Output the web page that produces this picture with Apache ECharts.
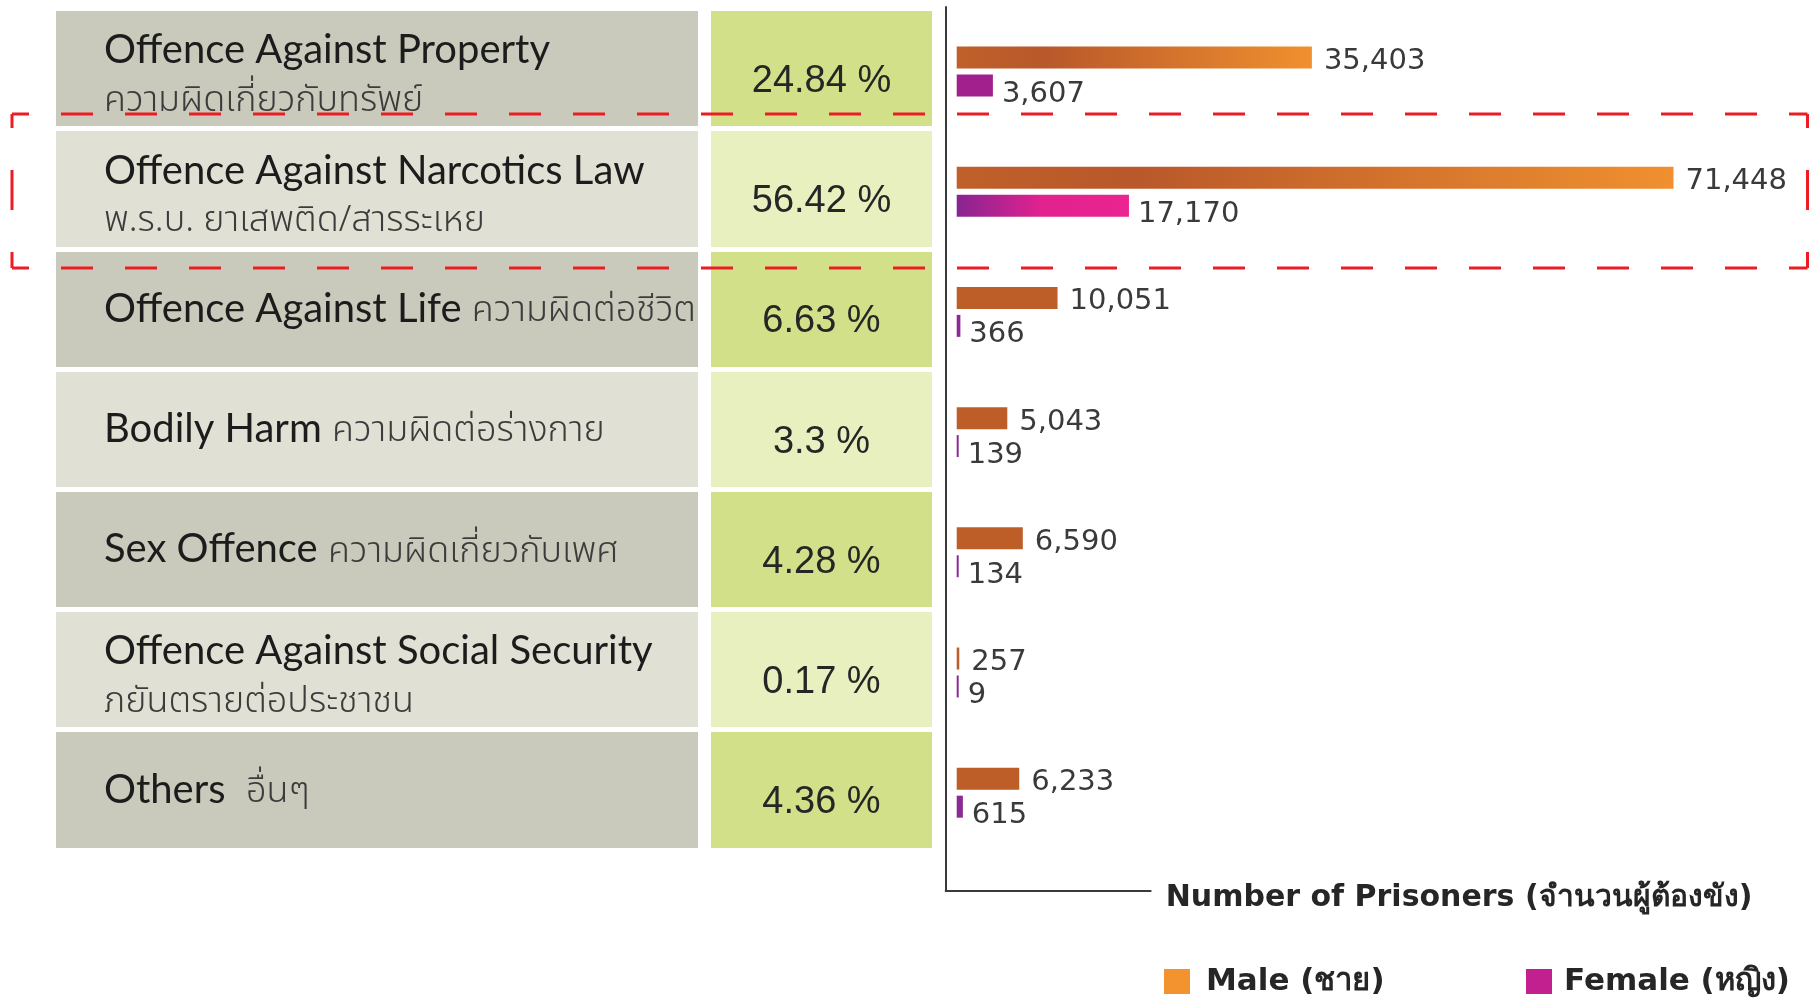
<!DOCTYPE html>
<html>
<head>
<meta charset="utf-8">
<title>Prisoners by offence</title>
<script src="https://cdn.jsdelivr.net/npm/echarts@6/dist/echarts.min.js"></script>
<style>
  html, body { margin: 0; padding: 0; background: #fff; }
  #main { width: 1813px; height: 998px; }
</style>
</head>
<body>
<div id="main"></div>
<script>
// offence types, top to bottom
const offenceEn = ['Offence Against Property', 'Offence Against Narcotics Law', 'Offence Against Life', 'Bodily Harm', 'Sex Offence', 'Offence Against Social Security', 'Others']
const offenceTh = ['ความผิดเกี่ยวกับทรัพย์', 'พ.ร.บ. ยาเสพติด/สารระเหย', 'ความผิดต่อชีวิต', 'ความผิดต่อร่างกาย', 'ความผิดเกี่ยวกับเพศ', 'ภยันตรายต่อประชาชน', 'อื่นๆ']
const sharePct = ['24.84', '56.42', '6.63', '3.3', '4.28', '0.17', '4.36']
const maleCount = [35403, 71448, 10051, 5043, 6590, 257, 6233]
const femaleCount = [3607, 17170, 366, 139, 134, 9, 615]

const thaiFont = "'Noto Sans Thai', 'Noto Sans Thai Looped', Loma, Garuda, 'Tlwg Typo', sans-serif"
const numFont = "'DejaVu Sans', sans-serif"

// same band layout for the table and the bars
const bandTop = 8.4
const bandHeight = 841.4

function maleFill(v) {
  if (v > 20000) {
    return {
      type: 'linear', x: 0, y: 0, x2: 1, y2: 0,
      colorStops: [
        { offset: 0, color: '#bf602a' },
        { offset: 0.25, color: '#b9582a' },
        { offset: 1, color: '#f0902f' }
      ]
    }
  }
  return '#bd5e29'
}

function femaleFill(v) {
  if (v > 10000) {
    return {
      type: 'linear', x: 0, y: 0, x2: 1, y2: 0,
      colorStops: [
        { offset: 0, color: '#882491' },
        { offset: 0.5, color: '#e2228f' },
        { offset: 1, color: '#ea2490' }
      ]
    }
  }
  if (v > 1000) return '#a21f8e'
  return '#8b2a93'
}

// table cells are drawn as striped category bands
function tableAxis(idx, colors, label) {
  return {
    gridIndex: idx,
    type: 'category',
    data: offenceEn,
    inverse: true,
    axisLine: { show: false },
    axisTick: { show: false },
    splitArea: { show: true, areaStyle: { color: colors } },
    splitLine: { show: true, lineStyle: { color: '#ffffff', width: 5 } },
    axisLabel: label
  }
}

function hiddenValueAxis(idx, max) {
  return {
    gridIndex: idx, type: 'value', min: 0, max: max,
    axisLine: { show: false }, axisTick: { show: false },
    axisLabel: { show: false }, splitLine: { show: false }
  }
}

const chart = echarts.init(document.getElementById('main'))

const option = {
  animation: false,
  backgroundColor: '#ffffff',
  grid: [
    { left: 56, top: bandTop, width: 642, height: bandHeight },
    { left: 711, top: bandTop, width: 221, height: bandHeight },
    { left: 956.7, top: bandTop + 3, width: 802.6, height: bandHeight },
    { left: 945.7, top: 7, width: 205, height: 884 }
  ],
  xAxis: [
    hiddenValueAxis(0, 1),
    hiddenValueAxis(1, 1),
    hiddenValueAxis(2, 80000),
    {
      gridIndex: 3, type: 'value', min: 0, max: 1,
      axisLine: { show: true, lineStyle: { color: '#3a3a3a', width: 2 } },
      axisTick: { show: false }, axisLabel: { show: false }, splitLine: { show: false },
      name: 'Number of Prisoners (จำนวนผู้ต้องขัง)',
      nameLocation: 'end',
      nameGap: 15,
      nameTextStyle: { fontFamily: numFont, fontSize: 30, fontWeight: 'bold', color: '#262626', verticalAlign: 'top', lineHeight: 14 }
    }
  ],
  yAxis: [
    tableAxis(0, ['#c9cabb', '#e0e0d5'], {
      inside: true,
      margin: 48,
      align: 'left',
      formatter: function (v, i) {
        const th = offenceTh[i]
        if (v.length > 22) return '{en2|' + v + '}\n{th2|' + th + '}'
        return '{en|' + v + (v.length < 8 ? '  ' : ' ') + '}{th|' + th + '}'
      },
      rich: {
        en: { fontFamily: 'Lato', fontSize: 40, color: '#1c1c1c', lineHeight: 50 },
        th: { fontFamily: thaiFont, fontSize: 36, fontWeight: 300, color: '#3c3c3c', lineHeight: 50, padding: [10, 0, 0, 0] },
        en2: { fontFamily: 'Lato', fontSize: 40, color: '#1c1c1c', lineHeight: 70 },
        th2: { fontFamily: thaiFont, fontSize: 36, fontWeight: 300, color: '#3c3c3c', lineHeight: 36 }
      }
    }),
    tableAxis(1, ['#d3e08a', '#e8f0c0'], {
      inside: true,
      margin: 110.5,
      align: 'center',
      verticalAlign: 'top',
      lineHeight: 26,
      fontFamily: "'Liberation Sans', sans-serif",
      fontSize: 38,
      color: '#262626',
      formatter: function (v, i) { return sharePct[i] + ' %' }
    }),
    {
      gridIndex: 2, type: 'category', data: offenceEn, inverse: true,
      axisLine: { show: false }, axisTick: { show: false }, axisLabel: { show: false }
    },
    {
      gridIndex: 3, type: 'value', min: 0, max: 1,
      axisLine: { show: true, lineStyle: { color: '#3a3a3a', width: 2 } },
      axisTick: { show: false }, axisLabel: { show: false }, splitLine: { show: false }
    }
  ],
  legend: [
    {
      data: [{ name: 'Male (ชาย)', itemStyle: { color: '#f39330' } }],
      left: 1164, top: 966, padding: 0, icon: 'rect',
      itemWidth: 26, itemHeight: 25, selectedMode: false,
      textStyle: { fontFamily: numFont, fontSize: 31, fontWeight: 'bold', color: '#262626', padding: [0, 0, 0, 11] }
    },
    {
      data: [{ name: 'Female (หญิง)', itemStyle: { color: '#c2208f' } }],
      left: 1526, top: 966, padding: 0, icon: 'rect',
      itemWidth: 26, itemHeight: 25, selectedMode: false,
      textStyle: { fontFamily: numFont, fontSize: 31, fontWeight: 'bold', color: '#262626', padding: [0, 0, 0, 7] }
    }
  ],
  series: [
    {
      name: 'Male (ชาย)',
      type: 'bar',
      xAxisIndex: 2,
      yAxisIndex: 2,
      barWidth: 22,
      barGap: '27%',
      barMinHeight: 2,
      itemStyle: { color: '#f39330' },
      data: maleCount.map(v => ({ value: v, itemStyle: { color: maleFill(v) } })),
      label: {
        show: true, position: 'right', distance: 12, offset: [0, 4],
        fontFamily: numFont, fontSize: 29, color: '#3a3a3a',
        formatter: p => p.value.toLocaleString('en-US')
      }
    },
    {
      name: 'Female (หญิง)',
      type: 'bar',
      xAxisIndex: 2,
      yAxisIndex: 2,
      barWidth: 22,
      barGap: '27%',
      barMinHeight: 2,
      itemStyle: { color: '#c2208f' },
      data: femaleCount.map(v => ({ value: v, itemStyle: { color: femaleFill(v) } })),
      label: {
        show: true, position: 'right', distance: 9, offset: [0, 9],
        fontFamily: numFont, fontSize: 29, color: '#3a3a3a',
        formatter: p => p.value.toLocaleString('en-US')
      }
    }
  ],
  // red dashed highlight round the narcotics row
  graphic: [
    { type: 'line', z: 100, shape: { x1: 12, y1: 114, x2: 1807.5, y2: 114 }, style: { stroke: '#ed1c24', lineWidth: 3, lineDash: [32, 32], lineDashOffset: 15 } },
    { type: 'line', z: 100, shape: { x1: 12, y1: 268, x2: 1807.5, y2: 268 }, style: { stroke: '#ed1c24', lineWidth: 3, lineDash: [32, 32], lineDashOffset: 15 } },
    { type: 'line', z: 100, shape: { x1: 12, y1: 114, x2: 12, y2: 268 }, style: { stroke: '#ed1c24', lineWidth: 3, lineDash: [40, 42], lineDashOffset: 26 } },
    { type: 'line', z: 100, shape: { x1: 1807.5, y1: 114, x2: 1807.5, y2: 268 }, style: { stroke: '#ed1c24', lineWidth: 3, lineDash: [40, 42], lineDashOffset: 26 } }
  ]
}

chart.setOption(option)
</script>
</body>
</html>
